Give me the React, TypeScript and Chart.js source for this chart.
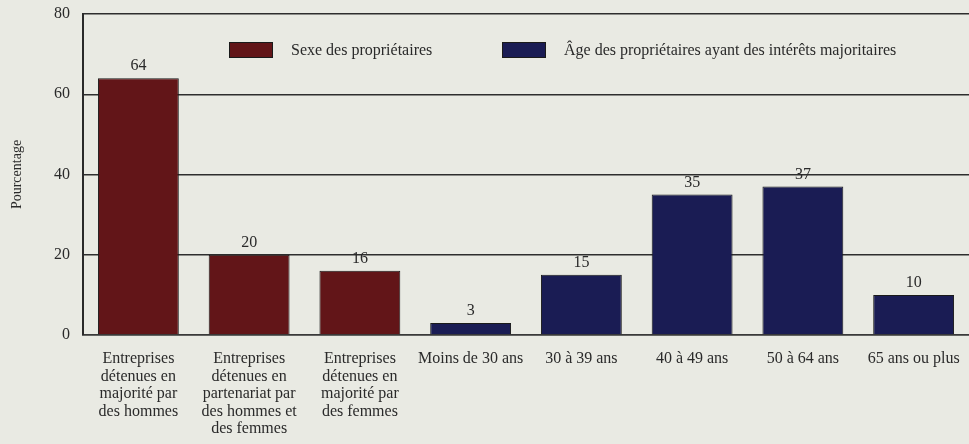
import React, { useEffect, useRef } from "react";
import { Chart, registerables } from "chart.js";

Chart.register(...registerables);

const categories: string[][] = [
  ["Entreprises", "détenues en", "majorité par", "des hommes"],
  ["Entreprises", "détenues en", "partenariat par", "des hommes et", "des femmes"],
  ["Entreprises", "détenues en", "majorité par", "des femmes"],
  ["Moins de 30 ans"],
  ["30 à 39 ans"],
  ["40 à 49 ans"],
  ["50 à 64 ans"],
  ["65 ans ou plus"],
];
const sexeValues: (number | null)[] = [64, 20, 16, null, null, null, null, null];
const ageValues: (number | null)[] = [null, null, null, 3, 15, 35, 37, 10];
const seriesLabels = ["Sexe des propriétaires", "Âge des propriétaires ayant des intérêts majoritaires"];
const yTicks = [0, 20, 40, 60, 80];

const FONT = '"Liberation Serif", "DejaVu Serif", serif';
const BG = "#e9eae3";
const TEXT = "#2a2a2a";
const RED = "#621518";
const BLUE = "#1a1c54";

export default function App() {
  const ref = useRef<HTMLCanvasElement | null>(null);
  useEffect(() => {
    document.body.style.margin = "0";
    document.body.style.background = BG;
    const bgPlugin = {
      id: "bg",
      beforeDraw(chart: any) {
        const { ctx, width, height } = chart;
        ctx.save();
        ctx.fillStyle = BG;
        ctx.fillRect(0, 0, width, height);
        ctx.restore();
      },
    };
    const labelPlugin = {
      id: "valueLabels",
      afterDatasetsDraw(chart: any) {
        const { ctx } = chart;
        ctx.save();
        ctx.font = `16px ${FONT}`;
        ctx.fillStyle = TEXT;
        ctx.textAlign = "center";
        ctx.textBaseline = "bottom";
        chart.data.datasets.forEach((ds: any, i: number) => {
          const meta = chart.getDatasetMeta(i);
          meta.data.forEach((el: any, j: number) => {
            const v = ds.data[j];
            if (v === null || v === undefined) return;
            ctx.fillText(String(v), el.x, el.y - 4);
          });
        });
        ctx.restore();
      },
    };
    const legendPlugin = {
      id: "customLegend",
      afterDraw(chart: any) {
        const { ctx, chartArea } = chart;
        const offsets = [146, 419];
        ctx.save();
        ctx.font = `16px ${FONT}`;
        ctx.textBaseline = "middle";
        ctx.textAlign = "left";
        chart.data.datasets.forEach((ds: any, i: number) => {
          const x = chartArea.left + offsets[i];
          const y = chartArea.top + 28;
          ctx.fillStyle = ds.backgroundColor;
          ctx.fillRect(x, y, 44, 16);
          ctx.strokeStyle = "#1a1a1a";
          ctx.lineWidth = 1;
          ctx.strokeRect(x + 0.5, y + 0.5, 43, 15);
          ctx.fillStyle = TEXT;
          ctx.fillText(ds.label, x + 62, y + 9);
        });
        ctx.restore();
      },
    };
    const chart = new Chart(ref.current as HTMLCanvasElement, {
      type: "bar",
      data: {
        labels: categories,
        datasets: [
          {
            label: seriesLabels[0],
            data: sexeValues,
            backgroundColor: RED,
            borderColor: "#1a1a1a",
            borderWidth: 1,
            grouped: false,
            categoryPercentage: 1,
            barPercentage: 0.73,
          } as any,
          {
            label: seriesLabels[1],
            data: ageValues,
            backgroundColor: BLUE,
            borderColor: "#1a1a1a",
            borderWidth: 1,
            grouped: false,
            categoryPercentage: 1,
            barPercentage: 0.73,
          } as any,
        ],
      },
      options: {
        responsive: false,
        animation: false,
        layout: { padding: { top: 14, right: 0, left: 0, bottom: 0 } },
        plugins: {
          legend: { display: false },
          tooltip: { enabled: false },
        },
        scales: {
          x: {
            grid: { display: false },
            border: { display: true, color: "#3a3a3a", width: 1.5 },
            ticks: {
              autoSkip: false,
              maxRotation: 0,
              minRotation: 0,
              padding: 7,
              color: TEXT,
              font: { family: FONT, size: 16, lineHeight: 1.1 },
            },
            afterFit(scale: any) {
              scale.height = 109;
              scale.paddingLeft = 0;
              scale.paddingRight = 0;
            },
          },
          y: {
            min: 0,
            max: 80,
            afterBuildTicks(scale: any) {
              scale.ticks = yTicks.map((v) => ({ value: v }));
            },
            grid: { color: "#2e2e2e", lineWidth: 1.5, drawTicks: false },
            border: { display: true, color: "#2a2a2a", width: 2 },
            ticks: {
              padding: 13,
              color: TEXT,
              font: { family: FONT, size: 16 },
            },
            title: {
              display: true,
              text: "Pourcentage",
              color: TEXT,
              font: { family: FONT, size: 14 },
              padding: { top: 9, bottom: 0 },
            },
            afterFit(scale: any) {
              scale.width = 83;
              scale.paddingTop = 0;
              scale.paddingBottom = 0;
            },
          },
        },
      },
      plugins: [bgPlugin, labelPlugin, legendPlugin],
    } as any);
    return () => chart.destroy();
  }, []);
  return (
    <div style={{ position: "absolute", left: 0, top: 0, width: 969, height: 444 }}>
      <canvas ref={ref} width={969} height={444} style={{ display: "block" }} />
    </div>
  );
}
